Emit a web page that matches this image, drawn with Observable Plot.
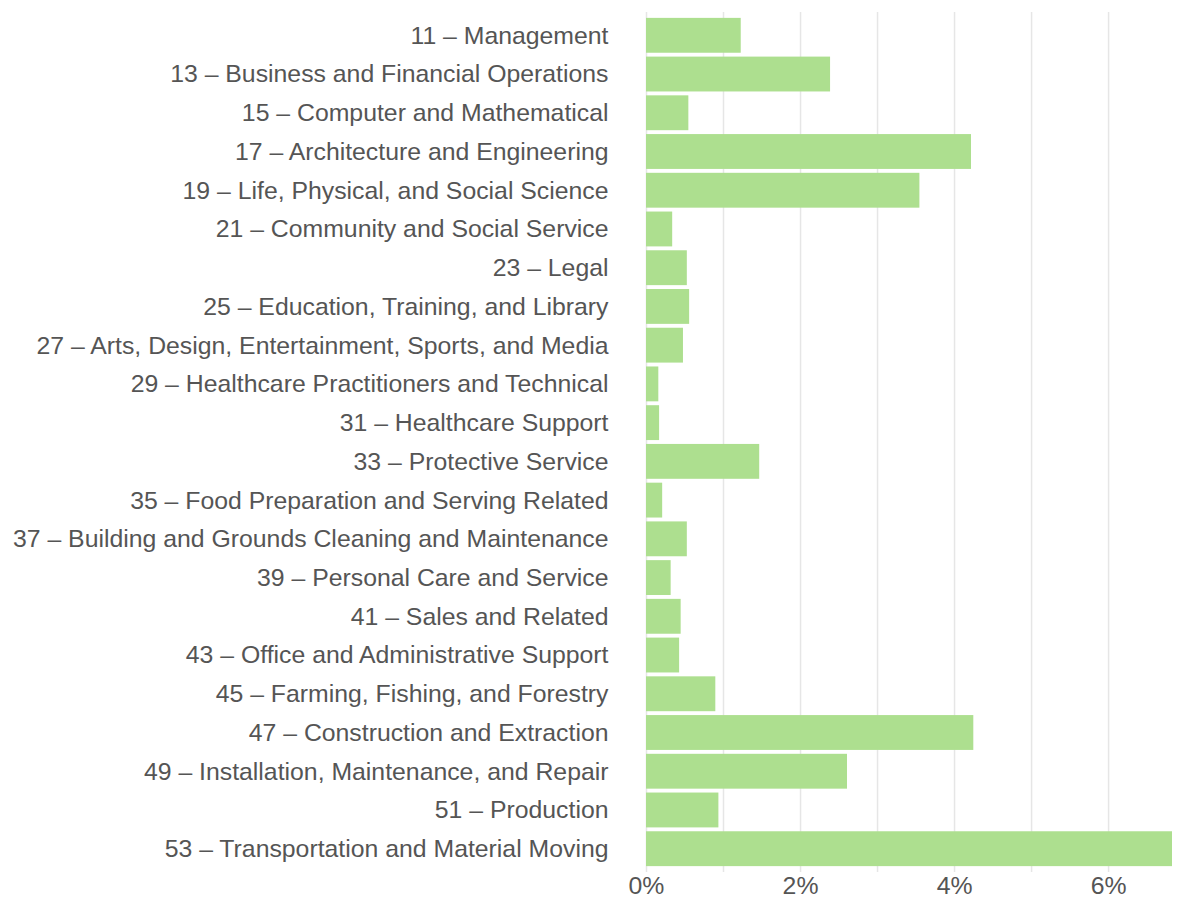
<!DOCTYPE html>
<html>
<head>
<meta charset="utf-8">
<script src="https://cdn.jsdelivr.net/npm/d3@7"></script>
<script src="https://cdn.jsdelivr.net/npm/@observablehq/plot@0.6"></script>
<style>
  html, body { margin: 0; padding: 0; background: #fff; }
  #chart svg { display: block; }
</style>
</head>
<body>
<div id="chart"></div>
<script>
const occupations = [
  "11 – Management",
  "13 – Business and Financial Operations",
  "15 – Computer and Mathematical",
  "17 – Architecture and Engineering",
  "19 – Life, Physical, and Social Science",
  "21 – Community and Social Service",
  "23 – Legal",
  "25 – Education, Training, and Library",
  "27 – Arts, Design, Entertainment, Sports, and Media",
  "29 – Healthcare Practitioners and Technical",
  "31 – Healthcare Support",
  "33 – Protective Service",
  "35 – Food Preparation and Serving Related",
  "37 – Building and Grounds Cleaning and Maintenance",
  "39 – Personal Care and Service",
  "41 – Sales and Related",
  "43 – Office and Administrative Support",
  "45 – Farming, Fishing, and Forestry",
  "47 – Construction and Extraction",
  "49 – Installation, Maintenance, and Repair",
  "51 – Production",
  "53 – Transportation and Material Moving"
];
const shares = [1.23, 2.39, 0.55, 4.22, 3.55, 0.34, 0.53, 0.56, 0.48, 0.16, 0.17, 1.47,
                0.21, 0.53, 0.32, 0.45, 0.43, 0.90, 4.25, 2.61, 0.94, 6.83];
const gridTicks = [0, 1, 2, 3, 4, 5, 6];
const labelTicks = [0, 2, 4, 6];

const data = occupations.map((name, i) => ({name, value: shares[i]}));

const chart = Plot.plot({
  width: 1179,
  height: 907,
  marginLeft: 646,
  marginRight: 7,
  marginTop: 14,
  marginBottom: 37,
  style: {fontFamily: "'Liberation Sans', Arial, sans-serif", fontSize: "24.8px", color: "#555"},
  x: {domain: [0, d3.max(shares)], ticks: labelTicks, tickFormat: d => d + "%", label: null, tickSize: 0, tickPadding: 6},
  y: {domain: occupations, padding: 0.1, round: false, label: null, tickSize: 0, tickPadding: 38},
  marks: [
    Plot.gridX(gridTicks, {stroke: "#e6e6e6", strokeOpacity: 1, strokeWidth: 1.5, insetTop: -2, insetBottom: -2}),
    Plot.barX(data, {x: "value", y: "name", fill: "#addf8f"})
  ]
});
document.getElementById("chart").appendChild(chart);
</script>
</body>
</html>
